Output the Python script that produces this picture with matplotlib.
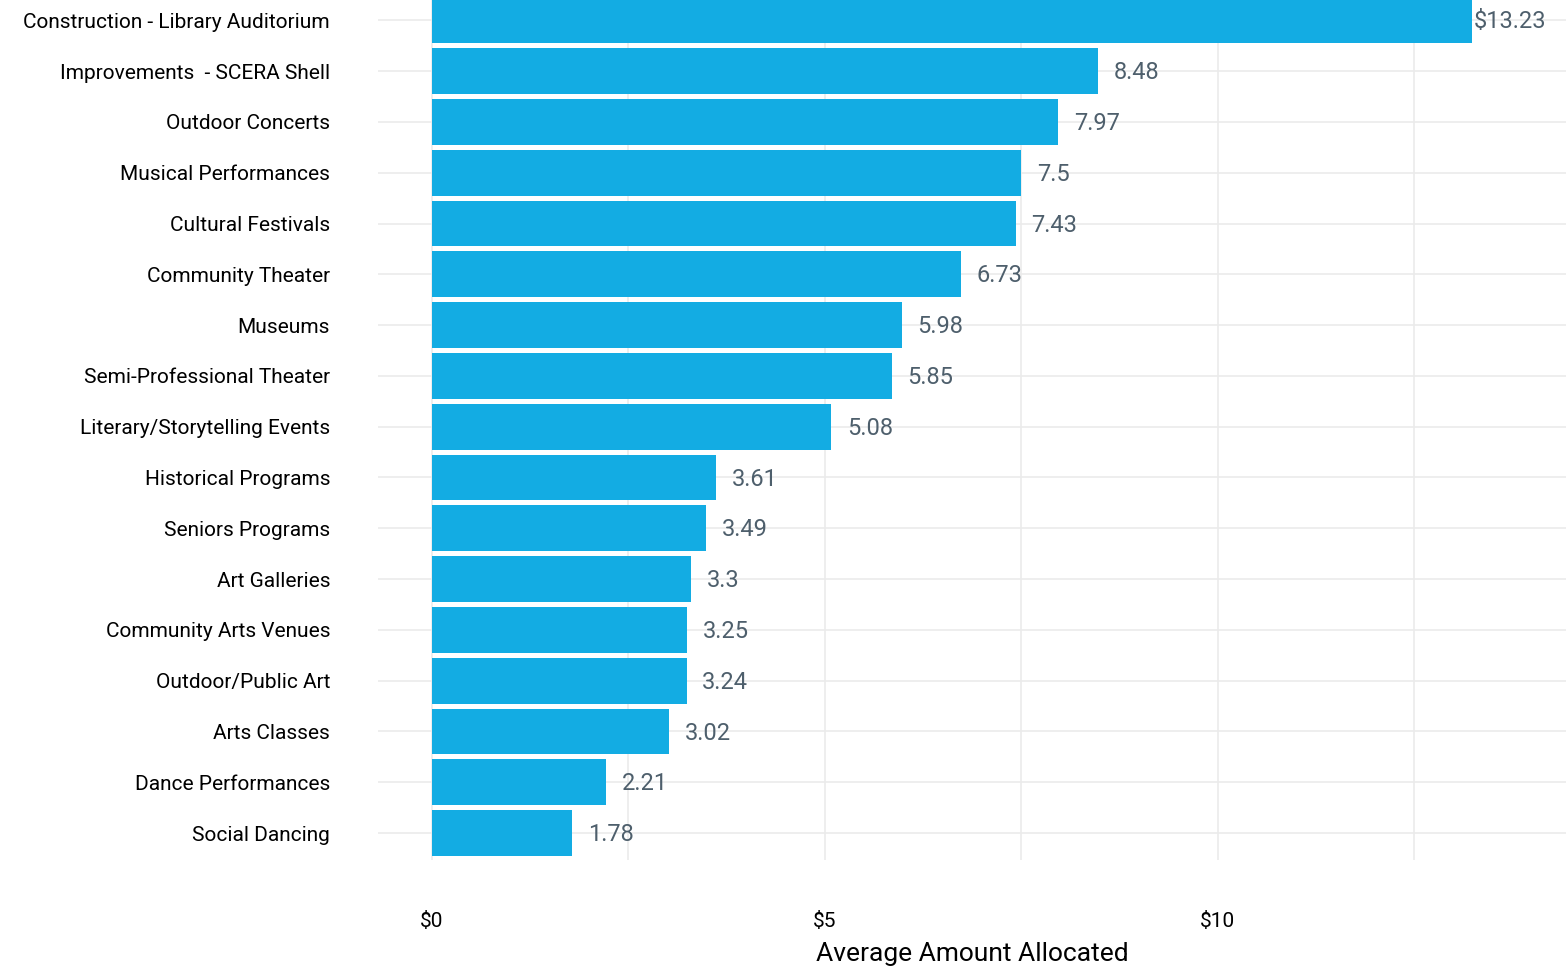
import matplotlib
matplotlib.use("Agg")
import matplotlib.pyplot as plt

# no condensed font available, Roboto is the narrowest of the installed ones
plt.rcParams["font.family"] = ["Roboto", "DejaVu Sans"]

categories = [
    "Construction - Library Auditorium",
    "Improvements  - SCERA Shell",
    "Outdoor Concerts",
    "Musical Performances",
    "Cultural Festivals",
    "Community Theater",
    "Museums",
    "Semi-Professional Theater",
    "Literary/Storytelling Events",
    "Historical Programs",
    "Seniors Programs",
    "Art Galleries",
    "Community Arts Venues",
    "Outdoor/Public Art",
    "Arts Classes",
    "Dance Performances",
    "Social Dancing",
]
amounts = [13.23, 8.48, 7.97, 7.5, 7.43, 6.73, 5.98, 5.85, 5.08,
           3.61, 3.49, 3.3, 3.25, 3.24, 3.02, 2.21, 1.78]
value_labels = ["$13.23", "8.48", "7.97", "7.5", "7.43", "6.73", "5.98", "5.85", "5.08",
                "3.61", "3.49", "3.3", "3.25", "3.24", "3.02", "2.21", "1.78"]
x_ticks = [0, 5, 10]
x_tick_labels = ["$0", "$5", "$10"]

BAR_COLOR = "#13ace3"
LABEL_COLOR = "#4e5f6c"
GRID_COLOR = "#ebebeb"

figure = plt.figure(figsize=(15.66, 9.73), dpi=100)
# axes area from x=378px to the right edge, y=0 to 860px
axis = figure.add_axes([378 / 1566, 1 - 860 / 973, 1 - 378 / 1566, 860 / 973])

positions = list(range(len(categories)))
axis.barh(positions, amounts, height=0.9, color=BAR_COLOR, zorder=2)

for pos, value, text in zip(positions, amounts, value_labels):
    offset = 0.02 if pos == 0 else 0.2  # top label sits right at the bar end
    axis.text(value + offset, pos + 0.03, text, va="center", ha="left",
              fontsize=17, color=LABEL_COLOR, zorder=3)

axis.set_xlim(-0.687, 14.43)
axis.set_ylim(len(categories) - 0.47, -0.4)

axis.set_xticks(x_ticks)
axis.set_xticklabels(x_tick_labels, fontsize=15)
axis.set_xticks([2.5, 7.5, 12.5], minor=True)
axis.set_yticks(positions)
axis.set_yticklabels(categories, fontsize=15)

axis.grid(True, which="both", axis="x", color=GRID_COLOR, linewidth=1.2, zorder=0)
axis.grid(True, axis="y", color=GRID_COLOR, linewidth=1.2, zorder=0)
axis.tick_params(axis="both", which="both", length=0)
axis.tick_params(axis="x", pad=37.5)
axis.tick_params(axis="y", pad=34.5)
for spine in axis.spines.values():
    spine.set_visible(False)

axis.set_xlabel("Average Amount Allocated", fontsize=19, labelpad=8)

figure.savefig("out.png", dpi=100)
